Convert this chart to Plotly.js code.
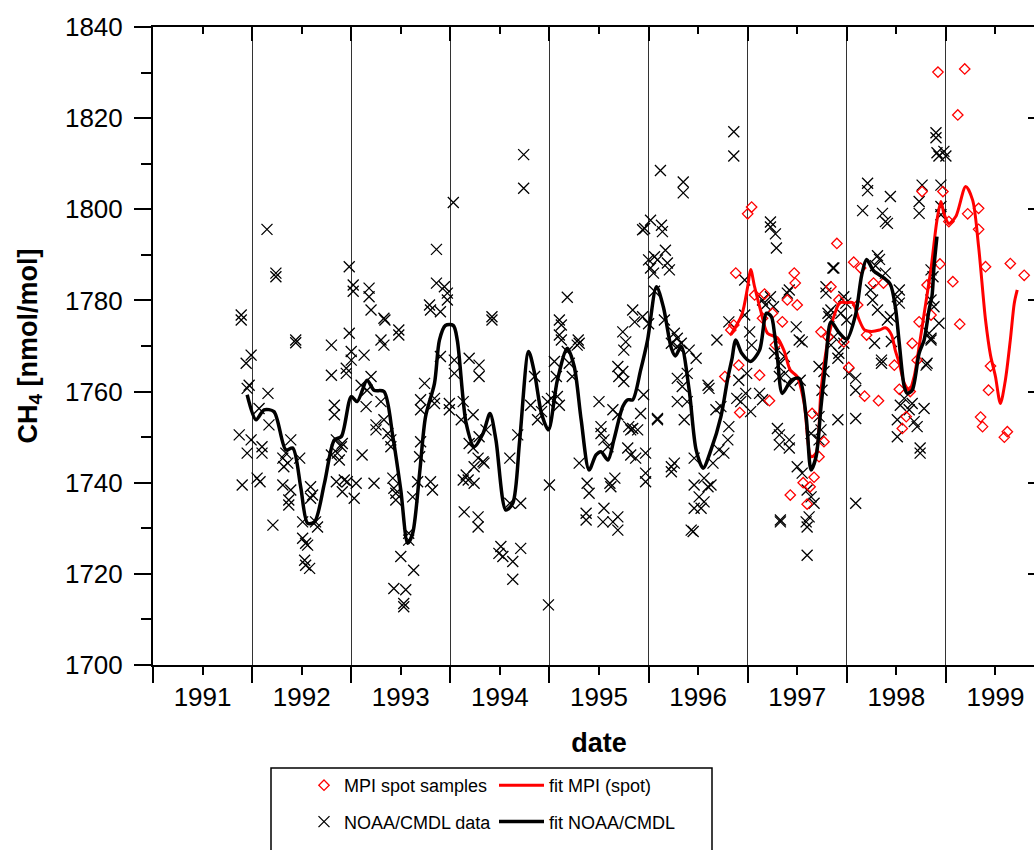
<!DOCTYPE html>
<html>
<head>
<meta charset="utf-8">
<script src="https://cdn.plot.ly/plotly-3.0.1.min.js"></script>
<style>
html,body{margin:0;padding:0;background:#fff;overflow:hidden;}
#chart{width:1060px;height:850px;}
</style>
</head>
<body>
<div id="chart"></div>
<script>
// ---- data ----
const yearTickVals = [1991.5,1992.5,1993.5,1994.5,1995.5,1996.5,1997.5,1998.5,1999.5];
const yearTickText = ['1991','1992','1993','1994','1995','1996','1997','1998','1999'];
const yearBoundaries = [1991,1992,1993,1994,1995,1996,1997,1998,1999,2000];

const noaaDate = [
1992.15,1992.24,1992.24,1991.89,1991.89,1992.44,1992.44,1992.80,1992.98,1993.02,1993.02,1992.98,1993.18,1993.18,1993.20,1993.33,1993.34,1993.48,1993.48,1993.30,1993.33,1993.86,1993.86,1993.94,1993.97,1993.97,1993.79,1993.80,1993.90,1994.03,
1991.99,1991.94,1991.97,1991.95,1992.16,1992.07,1992.17,1991.87,1991.99,1991.95,1992.10,1992.10,1991.90,1992.05,1992.08,1992.21,1992.39,1992.34,1992.31,1992.36,1992.32,1992.48,1992.31,1992.39,1992.37,1992.37,1992.59,1992.61,1992.59,1992.51,1992.64,1992.66,1992.51,1992.54,1992.56,1992.53,1992.54,1992.58,
1992.80,1992.95,1992.95,1992.83,1992.83,1992.80,1992.86,1992.88,1992.85,1992.91,1992.90,1992.85,1992.93,1992.96,1993.05,1992.91,1993.03,1993.00,1993.00,1993.13,1993.10,1993.20,1993.16,1993.15,1993.30,1993.25,1993.33,1993.25,1993.37,1993.40,1993.40,1993.11,1993.23,1993.42,1993.43,1993.45,1993.45,
1993.50,1993.58,1993.58,1993.63,1993.43,1993.55,1993.53,1993.53,1993.62,1993.67,1993.69,1993.70,1993.80,1993.82,1993.74,1993.70,1993.70,1993.84,1993.84,1993.90,1993.99,1993.99,
1994.74,1994.74,1996.12,1996.35,1996.35,1996.86,1996.86,1996.02,1995.96,1995.94,1996.13,1996.14,1996.00,1996.06,1996.09,1996.17,1996.19,1996.21,1996.02,1996.05,1996.06,1995.84,1995.86,1995.94,1996.00,1996.16,1995.74,1995.77,1995.75,
1995.10,1995.12,1995.10,1995.12,1995.18,1995.29,1995.30,1994.42,1994.42,1996.26,1996.29,1996.33,1996.41,1996.23,1996.69,1996.81,
1994.04,1994.04,1994.19,1994.29,1994.29,1994.13,1994.11,1994.23,1994.19,1994.23,1994.29,1994.28,1994.33,1994.34,1994.24,1994.16,1994.18,1994.13,1994.24,1994.14,1994.28,1994.28,1994.36,
1994.51,1994.49,1994.53,1994.63,1994.71,1994.63,1994.60,1994.68,1994.60,1994.71,1994.85,1994.81,1994.88,1994.92,1994.98,1995.02,1995.00,1994.99,1995.05,1995.07,1995.10,1995.08,1995.18,1995.20,1995.23,1995.28,
1995.69,1995.74,1995.70,1995.75,1995.30,1995.38,1995.40,1995.37,1995.37,1995.50,1995.52,1995.52,1995.55,1995.59,1995.64,1995.69,1995.61,1995.66,1995.62,1995.55,1995.54,1995.64,1995.69,1995.69,
1995.80,1995.84,1995.89,1995.82,1995.79,1995.82,1995.87,1995.97,1995.92,1995.95,1995.97,1995.97,1996.09,1996.09,1996.23,1996.26,1996.23,1996.29,1996.48,1996.29,1996.34,1996.39,1996.29,1996.39,1996.36,
1996.46,1996.46,1996.56,1996.60,1996.63,1996.51,1996.56,1996.46,1996.53,1996.43,1996.45,1996.60,1996.61,1996.68,1996.73,1996.81,1996.80,1996.71,1996.65,1996.76,
1996.91,1996.93,1996.98,1997.03,1996.99,1996.89,1997.12,1997.15,1997.27,1997.33,1997.37,1997.38,1997.32,1997.42,1997.30,1997.32,1997.32,1997.42,1997.42,1997.33,1997.33,1997.50,1997.55,1997.53,1997.52,
1997.60,1997.64,1997.67,1997.59,1997.60,1997.62,1997.60,1997.64,1997.72,1997.74,1997.72,1997.75,1997.72,1997.77,1997.91,1997.92,1997.91,1997.84,1998.09,1998.09,1998.02,1998.09,1998.09,
1998.28,1998.35,1998.35,1998.45,1998.51,1998.51,1998.54,1998.58,1998.63,1998.68,1998.66,1998.71,1998.78,1998.74,1998.74,1998.80,1998.81,1998.85,
1997.23,1997.23,1997.28,1997.29,1996.97,1997.15,1997.18,1997.23,1997.26,1996.97,1997.02,1997.04,1997.40,1997.42,1997.49,1997.55,1997.79,1997.79,1997.86,1997.87,1997.81,1997.84,1997.82,1997.97,1997.99,1997.94,1998.00,1997.87,1997.97,
1998.16,1998.21,1998.21,1998.36,1998.39,1998.41,1998.44,1998.31,1998.33,1998.29,1998.39,1998.24,1998.26,1998.31,1998.44,1998.41,1998.53,1998.51,1998.53,
1998.73,1998.73,1998.76,1998.95,1998.90,1998.90,1998.91,1998.93,1998.98,1999.00,1998.95,1998.95,1998.85,1998.87,1998.88,1998.85,1998.93,1998.83,1998.85
];
const noaaCH4 = [
1795.6,1786.0,1785.2,1776.8,1775.7,1771.3,1770.7,1770.2,1787.4,1783.4,1782.0,1772.8,1782.7,1780.8,1777.9,1776.1,1775.7,1773.5,1772.4,1771.3,1770.2,1791.2,1783.8,1783.0,1781.6,1780.1,1779.0,1777.9,1777.5,1801.5,
1768.0,1766.2,1761.4,1760.7,1759.6,1756.3,1752.7,1750.5,1749.4,1746.5,1747.9,1746.5,1739.5,1741.0,1740.2,1730.7,1749.4,1746.5,1745.4,1744.3,1743.5,1745.4,1739.5,1738.4,1736.2,1735.1,1739.1,1737.3,1736.6,1731.4,1731.4,1730.3,1727.8,1726.7,1726.3,1723.0,1721.9,1721.2,
1763.6,1765.1,1764.0,1757.0,1754.9,1746.1,1746.5,1745.0,1749.4,1748.6,1747.9,1740.2,1740.6,1740.2,1739.9,1738.0,1736.6,1768.8,1766.9,1768.0,1761.4,1763.3,1760.3,1756.7,1757.8,1752.7,1753.8,1751.6,1750.8,1749.4,1747.9,1746.1,1739.9,1741.0,1738.8,1737.7,1736.2,
1723.8,1728.9,1727.4,1720.8,1716.8,1716.5,1713.5,1712.8,1736.9,1740.2,1745.7,1749.0,1740.2,1738.4,1761.8,1758.2,1756.0,1757.4,1758.5,1767.7,1757.4,1756.0,
1812.0,1804.6,1808.5,1806.0,1803.6,1817.0,1811.7,1797.6,1795.8,1795.5,1796.5,1795.1,1788.9,1789.6,1788.9,1791.0,1788.2,1786.7,1787.1,1786.0,1782.0,1777.9,1775.3,1776.4,1774.9,1775.7,1773.1,1770.9,1769.1,
1775.7,1774.6,1772.4,1771.3,1780.7,1771.3,1770.6,1776.4,1775.7,1772.8,1771.7,1770.6,1769.1,1770.6,1771.3,1775.3,
1766.9,1764.0,1767.3,1765.8,1763.3,1757.8,1753.8,1754.9,1748.6,1747.6,1750.1,1745.4,1744.6,1744.3,1743.5,1741.7,1740.6,1740.6,1739.9,1733.6,1732.5,1730.3,1751.6,
1726.0,1724.5,1723.8,1722.7,1725.6,1718.8,1745.4,1750.5,1735.5,1735.5,1763.3,1757.0,1753.8,1755.6,1757.8,1758.5,1739.5,1713.2,1766.6,1763.3,1757.0,1758.9,1768.8,1766.2,1763.3,1770.2,
1765.5,1764.4,1763.3,1762.2,1744.3,1739.9,1737.7,1733.3,1731.8,1757.8,1752.3,1750.8,1749.4,1747.9,1756.0,1754.9,1739.9,1741.0,1739.1,1734.4,1731.4,1731.4,1732.5,1729.6,
1752.3,1751.9,1751.6,1751.6,1747.6,1746.1,1745.4,1746.5,1755.2,1759.3,1742.1,1740.2,1754.1,1753.8,1743.5,1744.3,1742.4,1769.9,1767.3,1762.9,1761.1,1764.0,1757.8,1757.8,1753.8,
1745.4,1739.5,1741.0,1739.1,1739.5,1736.9,1735.8,1734.4,1734.4,1729.6,1729.3,1761.4,1760.7,1756.0,1756.7,1752.3,1749.4,1747.2,1744.3,1746.5,
1762.5,1757.8,1759.6,1755.6,1764.0,1758.5,1759.6,1758.2,1768.4,1766.2,1767.7,1764.0,1763.3,1761.4,1751.9,1750.5,1748.3,1749.4,1747.6,1731.8,1731.4,1743.5,1742.1,1762.5,1771.3,
1738.4,1736.9,1735.5,1731.4,1730.3,1732.5,1724.1,1750.8,1749.4,1751.6,1754.5,1760.3,1765.5,1764.4,1753.8,1768.4,1767.3,1770.2,1754.1,1735.5,1764.0,1762.9,1760.3,
1770.6,1766.9,1766.2,1771.0,1753.8,1750.1,1757.0,1758.5,1756.0,1753.4,1757.4,1752.3,1756.3,1747.6,1746.5,1765.8,1766.2,1771.3,
1797.2,1796.1,1794.6,1791.5,1784.5,1780.1,1779.0,1780.8,1778.6,1776.8,1773.1,1770.2,1781.6,1782.3,1774.2,1770.9,1783.0,1781.6,1787.1,1787.1,1777.2,1777.9,1776.4,1780.8,1779.4,1777.2,1775.7,1772.0,1770.6,
1799.7,1805.7,1804.1,1799.1,1797.3,1796.9,1802.8,1789.8,1789.0,1787.6,1786.0,1782.3,1780.1,1777.9,1776.4,1775.7,1782.3,1780.8,1779.4,
1801.7,1799.1,1805.3,1805.3,1816.8,1815.7,1812.4,1811.7,1812.7,1811.7,1800.6,1798.8,1786.7,1785.2,1778.6,1780.1,1775.0,1772.8,1771.7
];

const mpiDate = [
1996.77,1996.88,1996.83,1996.86,1996.91,1996.92,1997.00,1997.04,1997.07,1997.17,1997.15,1997.25,1997.35,1997.28,1997.47,1997.48,1997.40,1997.50,
1997.74,1997.84,1997.90,1997.92,1998.07,1998.14,1998.11,1998.27,1998.37,1997.81,1998.20,1998.66,1998.73,1998.81,1998.85,1998.94,1998.76,1998.97,
1998.92,1999.19,1999.12,1999.03,1999.22,1999.33,1999.33,1999.40,1999.07,1999.14,1999.65,1999.79,
1997.12,1997.22,1997.43,1997.56,1997.63,1997.60,1997.67,1997.65,1997.77,1997.72,1997.97,1998.02,1998.18,1998.32,1998.48,1998.53,1998.64,1998.60,1998.56,1998.71,
1999.45,1999.43,1999.35,1999.37,1999.59,1999.62
];
const mpiCH4 = [
1763.3,1786.0,1773.5,1774.6,1765.8,1755.4,1799.0,1800.5,1781.2,1781.4,1776.1,1777.2,1775.3,1770.2,1786.0,1783.8,1780.1,1779.0,
1773.1,1783.0,1792.5,1780.1,1788.4,1787.1,1779.0,1783.8,1783.8,1772.0,1772.4,1770.6,1775.3,1783.4,1776.8,1788.0,1803.9,1803.9,
1830.1,1830.8,1820.7,1797.3,1799.0,1800.2,1795.6,1787.4,1784.1,1774.8,1788.1,1785.5,
1763.6,1758.0,1737.3,1740.0,1739.1,1735.3,1741.2,1755.2,1749.0,1745.7,1770.9,1765.3,1759.0,1758.0,1765.8,1760.5,1760.0,1754.5,1751.9,1766.9,
1765.6,1760.3,1754.4,1752.3,1750.0,1751.2
];

const fitNoaaDate = [
1991.95,1992.04,1992.12,1992.22,1992.34,1992.41,1992.49,1992.56,1992.63,1992.73,1992.83,1992.90,1993.00,1993.06,1993.16,1993.23,1993.33,1993.42,1993.50,1993.57,1993.62,1993.69,1993.75,1993.84,1993.89,1993.95,1994.03,1994.07,
1994.16,1994.24,1994.33,1994.40,1994.46,1994.56,1994.63,1994.70,1994.79,1994.85,1994.92,1994.99,1995.08,1995.18,1995.25,1995.32,1995.40,1995.47,1995.52,1995.59,1995.65,1995.74,1995.79,1995.84,1995.92,1995.99,
1996.08,1996.15,1996.23,1996.27,1996.33,1996.41,1996.48,1996.55,1996.63,1996.73,1996.80,1996.84,1996.88,1996.94,1997.03,1997.12,1997.19,1997.24,1997.27,1997.30,1997.35,1997.44,1997.52,1997.59,1997.64,1997.69,1997.74,1997.79,
1997.84,1997.92,1998.00,1998.09,1998.15,1998.20,1998.27,1998.37,1998.44,1998.49,1998.53,1998.58,1998.61,1998.66,1998.73,1998.78,1998.83,1998.86,1998.88,1998.91
];
const fitNoaaCH4 = [
1759.3,1753.8,1756.0,1755.6,1747.2,1747.6,1739.1,1731.1,1731.4,1739.9,1749.4,1750.1,1758.9,1757.8,1762.5,1760.3,1760.0,1750.1,1738.4,1726.7,1728.9,1742.1,1754.5,1761.8,1771.3,1774.5,1774.5,1771.3,
1753.0,1747.9,1750.8,1755.2,1749.4,1734.0,1735.5,1749.4,1768.8,1764.0,1755.2,1751.6,1762.5,1769.5,1765.5,1753.8,1742.8,1746.1,1746.8,1745.0,1749.4,1756.7,1758.2,1758.2,1764.7,1771.3,
1783.0,1778.5,1769.5,1767.8,1769.9,1760.3,1747.2,1743.2,1747.2,1754.5,1763.0,1767.0,1771.3,1768.4,1766.6,1769.1,1777.2,1776.4,1772.8,1767.5,1759.6,1762.5,1762.9,1754.5,1742.8,1745.7,1756.7,1766.9,
1775.3,1773.0,1771.5,1777.0,1785.5,1789.0,1786.5,1785.0,1783.5,1778.6,1770.5,1761.1,1759.6,1760.3,1768.4,1771.3,1777.9,1781.0,1787.4,1794.0
];

const fitMpiDate = [
1996.83,1996.94,1997.00,1997.03,1997.07,1997.13,1997.20,1997.30,1997.37,1997.43,1997.50,1997.57,1997.64,1997.69,1997.74,1997.81,1997.87,1997.93,1998.00,1998.06,1998.12,1998.18,1998.25,1998.33,1998.39,1998.45,1998.49,
1998.53,1998.58,1998.63,1998.68,1998.73,1998.78,1998.85,1998.91,1998.95,1998.98,1999.03,1999.10,1999.20,1999.27,1999.33,1999.40,1999.45,1999.50,1999.55,1999.60,1999.65,1999.69,1999.72
];
const fitMpiCH4 = [
1772.5,1776.8,1783.0,1786.8,1783.0,1777.9,1772.8,1771.8,1768.8,1764.7,1763.3,1757.4,1745.7,1746.5,1760.3,1771.3,1776.5,1779.5,1779.5,1779.5,1776.0,1773.5,1773.2,1773.5,1774.0,1772.5,1769.0,
1766.2,1761.8,1760.3,1763.3,1769.9,1777.0,1787.0,1797.6,1801.7,1799.1,1796.9,1798.4,1805.0,1802.0,1791.8,1775.7,1768.0,1763.3,1757.4,1762.5,1771.3,1779.4,1782.3
];

// ---- chart ----
const FONT = '"Liberation Sans", Arial, Helvetica, sans-serif';

const traces = [
  {
    name: 'NOAA/CMDL data', x: noaaDate, y: noaaCH4, type: 'scatter', mode: 'markers',
    marker: {symbol: 'x-thin-open', size: 11, color: '#000', line: {color: '#000', width: 1.3}},
    legend: 'legend', legendgroup: 'b', legendrank: 2
  },
  {
    name: 'MPI spot samples', x: mpiDate, y: mpiCH4, type: 'scatter', mode: 'markers',
    marker: {symbol: 'diamond-open', size: 8, color: '#ff0000', line: {color: '#ff0000', width: 1.3}},
    legend: 'legend', legendgroup: 'a', legendrank: 1
  },
  {
    name: 'fit MPI (spot)', x: fitMpiDate, y: fitMpiCH4, type: 'scatter', mode: 'lines',
    line: {color: '#ff0000', width: 3, shape: 'spline', smoothing: 0.8},
    legend: 'legend2', legendgroup: 'c', legendrank: 1
  },
  {
    name: 'fit NOAA/CMDL', x: fitNoaaDate, y: fitNoaaCH4, type: 'scatter', mode: 'lines',
    line: {color: '#000', width: 3.5, shape: 'spline', smoothing: 0.8},
    legend: 'legend2', legendgroup: 'd', legendrank: 2
  },
  { x: [], y: [], xaxis: 'x2', yaxis: 'y2', type: 'scatter', mode: 'markers', showlegend: false, hoverinfo: 'skip' }
];

const W = 1060, H = 850, ML = 153, MR = 15, MT = 27, MB = 185;
const PW = W - ML - MR, PH = H - MT - MB;
const px = v => (v - ML) / PW;          // page px -> paper x
const py = v => (H - MB - v) / PH;       // page px -> paper y

const layout = {
  width: W, height: H,
  margin: {l: ML, r: MR, t: MT, b: MB, pad: 0, autoexpand: false},
  paper_bgcolor: '#fff', plot_bgcolor: '#fff',
  font: {family: FONT, size: 26, color: '#000'},
  showlegend: true,
  xaxis: {
    range: [1991, 2000], automargin: false, showline: true, linewidth: 2, linecolor: '#000', mirror: false,
    tickmode: 'array', tickvals: yearTickVals, ticktext: yearTickText,
    ticks: 'outside', ticklen: 8, tickwidth: 2, tickcolor: '#000',
    tickfont: {family: FONT, size: 26, color: '#000'},
    showgrid: false, zeroline: false,
    minor: {tickmode: 'array', tickvals: yearBoundaries, ticks: 'outside', ticklen: 16, tickwidth: 2, tickcolor: '#000',
            showgrid: true, gridcolor: '#333', gridwidth: 1},
    title: {text: '<b>date</b>', font: {family: FONT, size: 27, color: '#000'}, standoff: 22}
  },
  yaxis: {
    range: [1700, 1840], automargin: false, showline: true, linewidth: 2, linecolor: '#000',
    tickmode: 'linear', tick0: 1700, dtick: 20,
    ticks: 'outside', ticklen: 17, tickwidth: 2, tickcolor: '#000', ticklabelstandoff: 6,
    tickfont: {family: FONT, size: 26, color: '#000'},
    showgrid: false, zeroline: false,
    minor: {tickmode: 'linear', tick0: 1700, dtick: 10, ticks: 'outside', ticklen: 10, tickwidth: 2, tickcolor: '#000', showgrid: false},
    title: {text: '<b>CH<sub>4</sub> [nmol/mol]</b>', font: {family: FONT, size: 27, color: '#000'}, standoff: 20}
  },
  xaxis2: {
    overlaying: 'x', side: 'top', anchor: 'y2', range: [1991, 2000], automargin: false,
    showline: true, linewidth: 2, linecolor: '#000',
    tickmode: 'array', tickvals: yearTickVals, showticklabels: false,
    ticks: 'inside', ticklen: 7, tickwidth: 2, tickcolor: '#000',
    minor: {tickmode: 'array', tickvals: yearBoundaries, ticks: 'inside', ticklen: 14, tickwidth: 2, tickcolor: '#000', showgrid: false},
    showgrid: false, zeroline: false
  },
  yaxis2: {
    overlaying: 'y', side: 'right', anchor: 'x2', range: [1700, 1840], automargin: false,
    showline: true, linewidth: 2, linecolor: '#000',
    tickmode: 'linear', tick0: 1700, dtick: 20, showticklabels: false,
    ticks: 'inside', ticklen: 17, tickwidth: 2, tickcolor: '#000',
    minor: {tickmode: 'linear', tick0: 1700, dtick: 10, ticks: 'inside', ticklen: 10, tickwidth: 2, tickcolor: '#000', showgrid: false},
    showgrid: false, zeroline: false
  },
  legend: {
    x: px(304), y: py(767), xanchor: 'left', yanchor: 'top', xref: 'paper', yref: 'paper',
    orientation: 'v', bgcolor: 'rgba(0,0,0,0)', borderwidth: 0, tracegroupgap: 10,
    font: {family: FONT, size: 18, color: '#000'}, itemwidth: 30
  },
  legend2: {
    x: px(494), y: py(767), xanchor: 'left', yanchor: 'top', xref: 'paper', yref: 'paper',
    orientation: 'v', bgcolor: 'rgba(0,0,0,0)', borderwidth: 0, tracegroupgap: 10,
    font: {family: FONT, size: 18, color: '#000'}, itemwidth: 45
  },
  shapes: [
    {type: 'rect', xref: 'paper', yref: 'paper', x0: px(271), x1: px(712), y0: py(768), y1: py(870),
     line: {color: '#000', width: 1.5}, fillcolor: 'rgba(0,0,0,0)', layer: 'above'}
  ]
};

Plotly.newPlot('chart', traces, layout, {displayModeBar: false, staticPlot: true});
</script>
</body>
</html>
